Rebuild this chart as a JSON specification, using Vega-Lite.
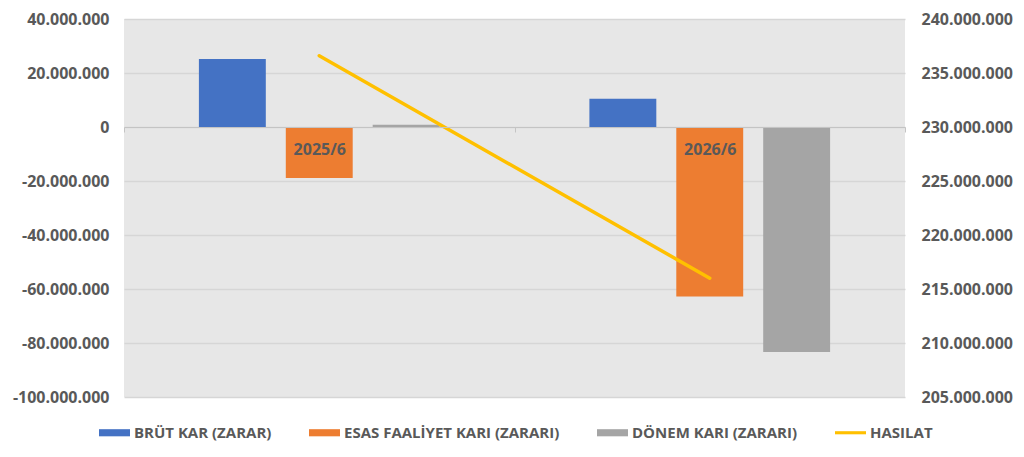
{
  "$schema": "https://vega.github.io/schema/vega-lite/v6.json",
  "width": 781,
  "height": 378,
  "autosize": "none",
  "padding": {"left": 124, "top": 19, "right": 119, "bottom": 60},
  "background": "white",
  "config": {
    "font": "Open Sans",
    "view": {"fill": "#E7E7E7", "stroke": null},
    "axis": {
      "labelFont": "Open Sans",
      "labelFontWeight": "bold",
      "labelFontSize": 16,
      "labelColor": "#595959",
      "title": null
    }
  },
  "data": {
    "values": [
      {"period": "2025/6", "series": "BRÜT KAR (ZARAR)", "value": 25200000},
      {"period": "2025/6", "series": "ESAS FAALİYET KARI (ZARARI)", "value": -18900000},
      {"period": "2025/6", "series": "DÖNEM KARI (ZARARI)", "value": 800000},
      {"period": "2025/6", "series": "HASILAT", "value": 236600000},
      {"period": "2026/6", "series": "BRÜT KAR (ZARAR)", "value": 10500000},
      {"period": "2026/6", "series": "ESAS FAALİYET KARI (ZARARI)", "value": -62800000},
      {"period": "2026/6", "series": "DÖNEM KARI (ZARARI)", "value": -83300000},
      {"period": "2026/6", "series": "HASILAT", "value": 216000000}
    ]
  },
  "encoding": {
    "x": {
      "field": "period",
      "type": "nominal",
      "scale": {"paddingInner": 0, "paddingOuter": 0},
      "axis": {
        "orient": "bottom",
        "offset": -270,
        "labelAngle": 0,
        "labelPadding": 9,
        "tickBand": "extent",
        "tickSize": 5,
        "tickColor": "#C4C4C4",
        "domainColor": "#C4C4C4",
        "zindex": 1
      }
    },
    "color": {
      "field": "series",
      "type": "nominal",
      "scale": {
        "domain": ["BRÜT KAR (ZARAR)", "ESAS FAALİYET KARI (ZARARI)", "DÖNEM KARI (ZARARI)", "HASILAT"],
        "range": ["#4472C4", "#ED7D31", "#A5A5A5", "#FFC000"]
      },
      "legend": {
        "title": null,
        "orient": "none",
        "legendX": -25,
        "legendY": 398,
        "direction": "horizontal",
        "columns": 4,
        "columnPadding": 37,
        "labelFont": "Open Sans",
        "labelFontSize": 15,
        "labelFontWeight": "bold",
        "labelColor": "#595959",
        "labelLimit": 0,
        "labelOffset": 4,
        "symbolSize": 961,
        "symbolType": "M-1,-0.23H1V0.23H-1Z",
        "encode": {
          "symbols": {
            "update": {
              "shape": {"signal": "datum.value === 'HASILAT' ? 'M-1,-0.1H1V0.1H-1Z' : 'M-1,-0.23H1V0.23H-1Z'"},
              "fill": {"signal": "scale('color', datum.value)"},
              "stroke": {"value": "transparent"},
              "strokeWidth": {"value": 0},
              "opacity": {"value": 1}
            }
          }
        }
      }
    }
  },
  "layer": [
    {
      "transform": [{"filter": "datum.series !== 'HASILAT'"}],
      "mark": {"type": "bar"},
      "encoding": {
        "xOffset": {
          "field": "series",
          "type": "nominal",
          "scale": {
            "domain": ["BRÜT KAR (ZARAR)", "ESAS FAALİYET KARI (ZARARI)", "DÖNEM KARI (ZARARI)"],
            "paddingInner": 0.23,
            "paddingOuter": 0.862
          }
        },
        "y": {
          "field": "value",
          "type": "quantitative",
          "scale": {"domain": [-100000000, 40000000], "nice": false, "zero": false},
          "axis": {
            "orient": "left",
            "values": [-100000000, -80000000, -60000000, -40000000, -20000000, 0, 20000000, 40000000],
            "labelExpr": "replace(replace(format(datum.value, ','), /,/g, '.'), '\u2212', '-')",
            "grid": true,
            "gridColor": "#D6D6D6",
            "gridWidth": 1.5,
            "domain": false,
            "ticks": false,
            "labelPadding": 15
          }
        }
      }
    },
    {
      "transform": [{"filter": "datum.series === 'HASILAT'"}],
      "mark": {"type": "line", "strokeWidth": 3.5, "strokeCap": "round"},
      "encoding": {
        "y": {
          "field": "value",
          "type": "quantitative",
          "scale": {"domain": [205000000, 240000000], "nice": false, "zero": false},
          "axis": {
            "orient": "right",
            "values": [205000000, 210000000, 215000000, 220000000, 225000000, 230000000, 235000000, 240000000],
            "labelExpr": "replace(format(datum.value, ','), /,/g, '.')",
            "grid": false,
            "domain": false,
            "ticks": false,
            "labelPadding": 16
          }
        }
      }
    }
  ],
  "resolve": {"scale": {"y": "independent"}}
}
